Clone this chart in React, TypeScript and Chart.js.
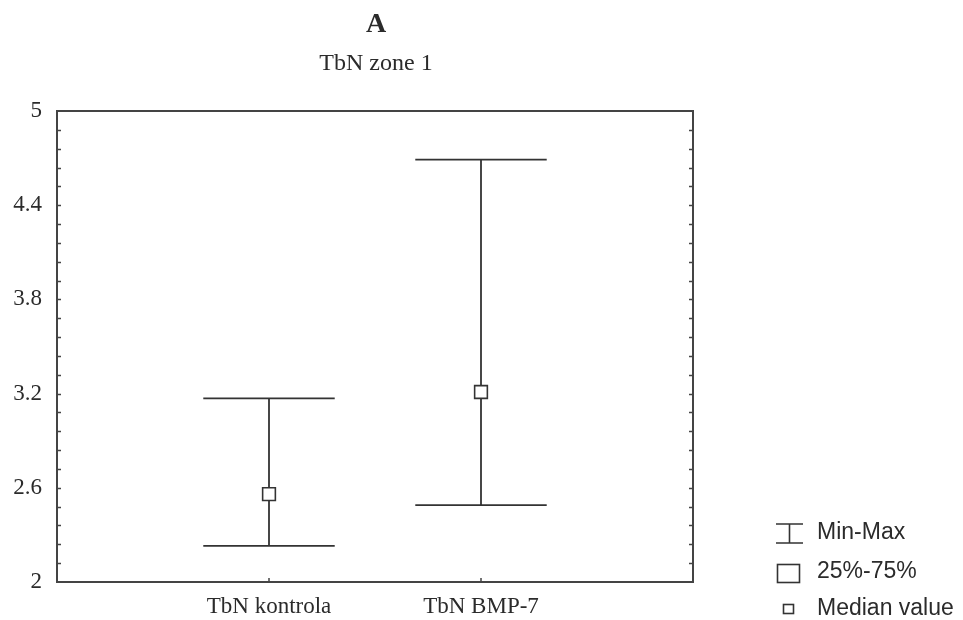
import React, { useEffect, useRef } from "react";
import { Chart, registerables } from "chart.js";

Chart.register(...registerables);

// ---- Data ----
const categories = ["", "TbN kontrola", "TbN BMP-7", ""];
const minValues: (number | null)[] = [null, 2.23, 2.49, null];
const maxValues: (number | null)[] = [null, 3.17, 4.69, null];
const medianValues: (number | null)[] = [null, 2.56, 3.21, null];
const yTicks = [2, 2.6, 3.2, 3.8, 4.4, 5];
const yMin = 2;
const yMax = 5;
const minorStep = 0.12;
const titleText = "A";
const subtitleText = "TbN zone 1";
const legendLabels = ["Min-Max", "25%-75%", "Median value"];

const INK = "#333333";
const SERIF = '"Liberation Serif", "Times New Roman", serif';
const SANS = '"Liberation Sans", Arial, sans-serif';

const decorPlugin = {
  id: "decor",
  beforeDatasetsDraw(chart: any) {
    const { ctx, scales } = chart;
    const x = scales.x;
    const y = scales.y;
    const spacing = x.getPixelForValue(1) - x.getPixelForValue(0);
    const half = spacing * 0.31;
    ctx.save();
    ctx.strokeStyle = INK;
    ctx.lineWidth = 1.8;
    for (let i = 0; i < categories.length; i++) {
      const lo = minValues[i];
      const hi = maxValues[i];
      if (lo == null || hi == null) continue;
      const px = x.getPixelForValue(i);
      const pLo = y.getPixelForValue(lo);
      const pHi = y.getPixelForValue(hi);
      ctx.beginPath();
      ctx.moveTo(px, pLo);
      ctx.lineTo(px, pHi);
      ctx.moveTo(px - half, pLo);
      ctx.lineTo(px + half, pLo);
      ctx.moveTo(px - half, pHi);
      ctx.lineTo(px + half, pHi);
      ctx.stroke();
    }
    ctx.restore();
  },
  afterDraw(chart: any) {
    const { ctx, chartArea, scales } = chart;
    const { left, right, top, bottom } = chartArea;
    const x = scales.x;
    const y = scales.y;
    ctx.save();
    // frame
    ctx.strokeStyle = "#444";
    ctx.lineWidth = 2;
    ctx.strokeRect(left, top, right - left, bottom - top);
    // inward minor ticks
    ctx.lineWidth = 1.5;
    ctx.beginPath();
    const n = Math.round((yMax - yMin) / minorStep);
    for (let k = 1; k < n; k++) {
      const py = Math.round(y.getPixelForValue(yMin + k * minorStep)) + 0.5;
      ctx.moveTo(left, py);
      ctx.lineTo(left + 4, py);
      ctx.moveTo(right, py);
      ctx.lineTo(right - 4, py);
    }
    for (let i = 0; i < categories.length; i++) {
      if (!categories[i]) continue;
      const px = x.getPixelForValue(i);
      ctx.moveTo(px, bottom);
      ctx.lineTo(px, bottom - 4);
    }
    ctx.stroke();

    // titles
    const cx = (left + right) / 2 + 1;
    ctx.fillStyle = "#2b2b2b";
    ctx.textAlign = "center";
    ctx.textBaseline = "alphabetic";
    ctx.font = `bold 28px ${SERIF}`;
    ctx.fillText(titleText, cx, 32);
    ctx.font = `24px ${SERIF}`;
    ctx.fillText(subtitleText, cx, 70);

    // legend
    ctx.strokeStyle = INK;
    ctx.lineWidth = 1.6;
    // Min-Max I-beam
    ctx.beginPath();
    ctx.moveTo(789.5, 524);
    ctx.lineTo(789.5, 543);
    ctx.moveTo(776, 524);
    ctx.lineTo(803, 524);
    ctx.moveTo(776, 543);
    ctx.lineTo(803, 543);
    ctx.stroke();
    // 25-75 box
    ctx.strokeRect(777.5, 564.5, 22, 18);
    // median small box
    ctx.strokeRect(783.5, 604.5, 10, 9);

    ctx.font = `23px ${SANS}`;
    ctx.textAlign = "left";
    ctx.textBaseline = "middle";
    ctx.fillStyle = "#2b2b2b";
    const ys = [533, 572, 609];
    legendLabels.forEach((t, i) => ctx.fillText(t, 817, ys[i]));
    ctx.restore();
  },
};

export default function App() {
  const ref = useRef<HTMLCanvasElement>(null);
  useEffect(() => {
    if (!ref.current) return;
    const chart = new Chart(ref.current, {
      type: "line",
      data: {
        labels: categories,
        datasets: [
          {
            label: "Median value",
            data: medianValues as any,
            showLine: false,
            pointStyle: "rect",
            pointRadius: 9,
            pointHoverRadius: 9,
            pointBackgroundColor: "#ffffff",
            pointBorderColor: INK,
            pointBorderWidth: 1.6,
          },
        ],
      },
      options: {
        responsive: false,
        animation: false,
        events: [],
        layout: { padding: { top: 111, right: 270, bottom: 0, left: 0 } },
        plugins: {
          legend: { display: false },
          title: { display: false },
          tooltip: { enabled: false },
        },
        scales: {
          x: {
            type: "category",
            offset: false,
            grid: { display: false, drawTicks: false },
            border: { display: false },
            ticks: {
              autoSkip: false,
              maxRotation: 0,
              minRotation: 0,
              padding: 11,
              color: "#2b2b2b",
              font: { family: SERIF, size: 23 },
            },
            afterFit: (s: any) => {
              s.height = 38;
            },
          },
          y: {
            min: yMin,
            max: yMax,
            grid: { display: false, drawTicks: false },
            border: { display: false },
            afterBuildTicks: (s: any) => {
              s.ticks = yTicks.map((v) => ({ value: v }));
            },
            ticks: {
              padding: 15,
              color: "#2b2b2b",
              font: { family: SERIF, size: 23 },
              callback: (v: any) => String(Math.round(Number(v) * 10) / 10),
            },
            afterFit: (s: any) => {
              s.width = 57;
            },
          },
        },
      },
      plugins: [decorPlugin],
    });
    return () => chart.destroy();
  }, []);
  return (
    <div style={{ position: "absolute", left: 0, top: 0, width: 963, height: 620, background: "#fff" }}>
      <canvas ref={ref} width={963} height={620} style={{ display: "block" }} />
    </div>
  );
}
